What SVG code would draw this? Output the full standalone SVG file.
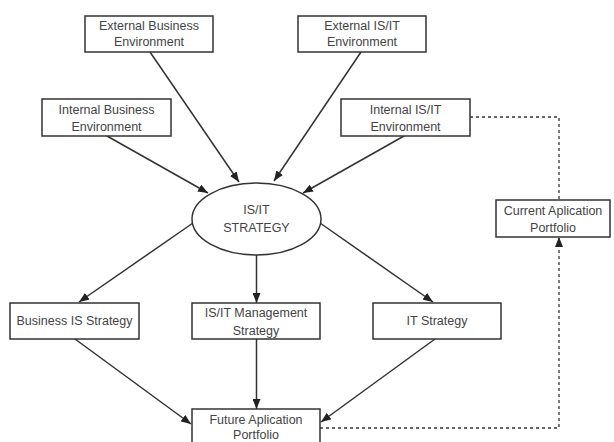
<svg xmlns="http://www.w3.org/2000/svg" width="614" height="442" viewBox="0 0 614 442">
<style>
.box{fill:#fff;stroke:#333;stroke-width:1.5}
.t{font-family:"Liberation Sans",Arial,sans-serif;font-size:12.5px;fill:#444;text-anchor:middle}
.c{fill:none;stroke:#333;stroke-width:1.5}
.d{fill:none;stroke:#333;stroke-width:1.3;stroke-dasharray:3,3}
</style>
<defs>
<marker id="ah" markerUnits="userSpaceOnUse" markerWidth="10" markerHeight="8" refX="10" refY="4" orient="auto">
<path d="M0,0 L10,4 L0,8 z" fill="#222"/>
</marker>
</defs>
<rect width="614" height="442" fill="#fff"/>
<g id="connectors">
<line class="c" x1="150" y1="52" x2="239" y2="182" marker-end="url(#ah)"/>
<line class="c" x1="361" y1="52" x2="274" y2="181" marker-end="url(#ah)"/>
<line class="c" x1="107" y1="136" x2="208" y2="193" marker-end="url(#ah)"/>
<line class="c" x1="404" y1="136" x2="303" y2="193" marker-end="url(#ah)"/>
<line class="c" x1="193" y1="223" x2="79" y2="302" marker-end="url(#ah)"/>
<line class="c" x1="320" y1="223" x2="433" y2="302" marker-end="url(#ah)"/>
<line class="c" x1="256.5" y1="255" x2="256.5" y2="303" marker-end="url(#ah)"/>
<line class="c" x1="75" y1="339" x2="191" y2="424" marker-end="url(#ah)"/>
<line class="c" x1="256.5" y1="339" x2="256.5" y2="409" marker-end="url(#ah)"/>
<line class="c" x1="435" y1="339" x2="321" y2="422" marker-end="url(#ah)"/>
<polyline class="d" points="320,428 559,428 559,237" marker-end="url(#ah)"/>
<polyline class="d" points="470,117 559,117 559,200"/>
</g>
<g id="ext-business">
<rect class="box" x="85" y="16" width="128" height="36"/>
<text class="t" x="149" y="30">External Business</text>
<text class="t" x="149" y="46">Environment</text>
</g>
<g id="ext-isit">
<rect class="box" x="298" y="16" width="128" height="36"/>
<text class="t" x="362" y="30">External IS/IT</text>
<text class="t" x="362" y="46">Environment</text>
</g>
<g id="int-business">
<rect class="box" x="42" y="99" width="129" height="37"/>
<text class="t" x="106.5" y="114">Internal Business</text>
<text class="t" x="106.5" y="131">Environment</text>
</g>
<g id="int-isit">
<rect class="box" x="341" y="99" width="129" height="37"/>
<text class="t" x="405.5" y="114">Internal IS/IT</text>
<text class="t" x="405.5" y="131">Environment</text>
</g>
<g id="strategy">
<ellipse class="box" cx="256.5" cy="219" rx="64.5" ry="36"/>
<text class="t" x="256.5" y="214">IS/IT</text>
<text class="t" x="256.5" y="232">STRATEGY</text>
</g>
<g id="current-portfolio">
<rect class="box" x="496" y="200" width="114" height="37"/>
<text class="t" x="553" y="215">Current Aplication</text>
<text class="t" x="553" y="232">Portfolio</text>
</g>
<g id="business-is">
<rect class="box" x="10" y="303" width="129" height="36"/>
<text class="t" x="74.5" y="325">Business IS Strategy</text>
</g>
<g id="isit-management">
<rect class="box" x="192" y="303" width="128" height="36"/>
<text class="t" x="256" y="317">IS/IT Management</text>
<text class="t" x="256" y="335">Strategy</text>
</g>
<g id="it-strategy">
<rect class="box" x="373" y="303" width="128" height="36"/>
<text class="t" x="437" y="325">IT Strategy</text>
</g>
<g id="future-portfolio">
<rect class="box" x="192" y="409" width="128" height="40"/>
<text class="t" x="256" y="424">Future Aplication</text>
<text class="t" x="256" y="439">Portfolio</text>
</g>
</svg>
